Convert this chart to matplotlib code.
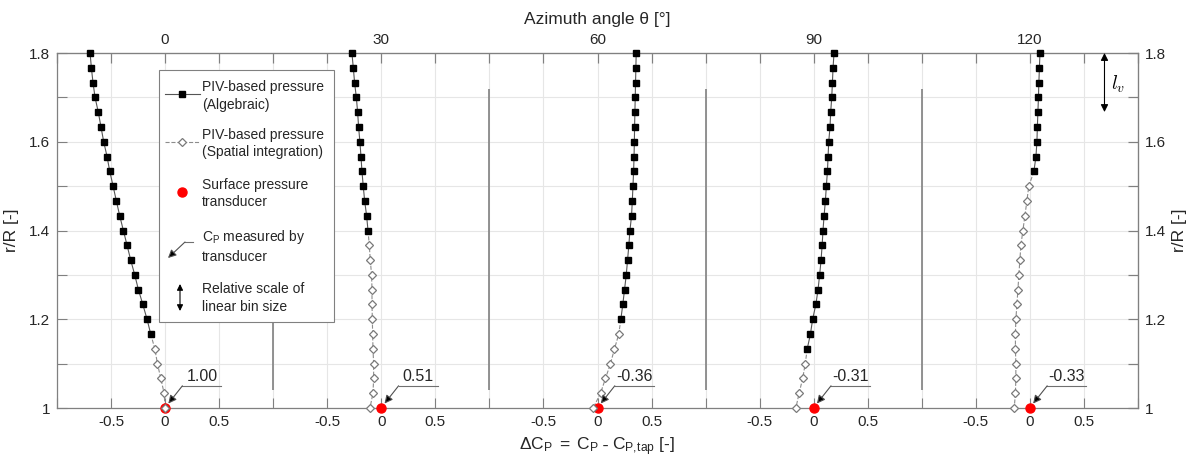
import numpy as np
import matplotlib
matplotlib.use('Agg')
import matplotlib.pyplot as plt
from matplotlib.patches import Rectangle

plt.rcParams['font.family'] = ['Liberation Sans', 'DejaVu Sans']
plt.rcParams['axes.unicode_minus'] = False
plt.rcParams['mathtext.fontset'] = 'cm'

# radial bins (r/R), top to bottom
r_bins = [1.8, 1.7667, 1.7333, 1.7, 1.6667, 1.6333, 1.6, 1.5667, 1.5333, 1.5,
          1.4667, 1.4333, 1.4, 1.3667, 1.3333, 1.3, 1.2667, 1.2333, 1.2, 1.1667,
          1.1333, 1.1, 1.0667, 1.0333, 1.0]

angles = [0, 30, 60, 90, 120]
tap_cp = ['1.00', '0.51', '-0.36', '-0.31', '-0.33']
# number of bins (from the top) given by the algebraic method
n_algebraic = [20, 13, 19, 21, 9]

dcp_0 = [-0.694, -0.682, -0.667, -0.648, -0.618, -0.593, -0.568, -0.537, -0.512, -0.481,
         -0.451, -0.420, -0.386, -0.352, -0.318, -0.281, -0.247, -0.206, -0.167, -0.133,
         -0.095, -0.071, -0.040, -0.009, 0.0]
dcp_30 = [-0.272, -0.259, -0.247, -0.231, -0.219, -0.210, -0.198, -0.188, -0.179, -0.167,
          -0.154, -0.136, -0.123, -0.111, -0.102, -0.090, -0.086, -0.086, -0.083, -0.080,
          -0.077, -0.071, -0.071, -0.077, -0.105]
dcp_60 = [0.358, 0.355, 0.352, 0.349, 0.346, 0.343, 0.341, 0.338, 0.334, 0.328,
          0.322, 0.315, 0.300, 0.290, 0.278, 0.266, 0.250, 0.234, 0.216, 0.197,
          0.157, 0.120, 0.074, 0.028, -0.040]
dcp_90 = [0.188, 0.179, 0.173, 0.167, 0.157, 0.151, 0.139, 0.133, 0.127, 0.117,
          0.108, 0.096, 0.086, 0.078, 0.068, 0.055, 0.040, 0.020, -0.010, -0.030,
          -0.060, -0.078, -0.102, -0.135, -0.165]
dcp_120 = [0.093, 0.088, 0.083, 0.079, 0.074, 0.069, 0.065, 0.056, 0.037, -0.010,
           -0.028, -0.046, -0.065, -0.083, -0.093, -0.102, -0.111, -0.120, -0.130, -0.134,
           -0.134, -0.130, -0.130, -0.134, -0.145]
dcp_all = [dcp_0, dcp_30, dcp_60, dcp_90, dcp_120]

SPAN = 2.0
GRAY = '#808080'
TXT = '#262626'

fig = plt.figure(figsize=(11.97, 4.66), dpi=100)
ax = fig.add_axes([57 / 1197, 1 - 408 / 466, 1081 / 1197, 355 / 466])

r = np.array(r_bins)
for i, dcp in enumerate(dcp_all):
    c = SPAN * i
    n = n_algebraic[i]
    x = np.array(dcp) + c
    ax.plot(x[n - 1:], r[n - 1:], ls='--', color='#8c8c8c', lw=0.8, zorder=3)
    ax.plot(c, 1.0, 'o', color='red', ms=6.5, zorder=4, clip_on=False)
    ax.plot(x[n:], r[n:], ls='none', marker='D', ms=4.5, mfc='white',
            mec='#7a7a7a', mew=0.9, zorder=5, clip_on=False)
    ax.plot(x[:n], r[:n], '-', color='#555555', lw=0.8, marker='s', ms=4.8,
            mfc='k', mec='k', zorder=5, clip_on=False)
    # measured Cp callout
    ax.plot([c + 0.16, c + 0.52], [1.05, 1.05], color='#707070', lw=0.8, zorder=6)
    ax.annotate('', xy=(c + 0.03, 1.01), xytext=(c + 0.16, 1.05),
                arrowprops=dict(arrowstyle='-|>', fc='k', ec='#505050', lw=0.8,
                                mutation_scale=12, shrinkA=0, shrinkB=0), zorder=6)
    ax.text(c + 0.34, 1.072, tap_cp[i], ha='center', va='center', fontsize=11.5, color=TXT)

# panel separators
ax.vlines([SPAN * i + SPAN / 2 for i in range(len(angles) - 1)], 1.04, 1.72,
          color=GRAY, lw=1.2, zorder=2)

# bin-size marker
ax.annotate('', xy=(8.69, 1.8), xytext=(8.69, 1.667),
            arrowprops=dict(arrowstyle='<|-|>', fc='k', ec='k', lw=0.8,
                            mutation_scale=11, shrinkA=0, shrinkB=0))
ax.text(8.75, 1.73, r'$l_v$', fontsize=14, ha='left', va='center')

# axes, ticks, grid
ax.set_xlim(-1, SPAN * (len(angles) - 1) + 1)
ax.set_ylim(1, 1.8)
xt = np.arange(-1, SPAN * (len(angles) - 1) + 1.01, 0.5)
xl = []
for t in xt:
    rel = t - SPAN * round(t / SPAN)
    if abs(rel) > 0.9:
        xl.append('')
    elif abs(rel) < 1e-9:
        xl.append('0')
    else:
        xl.append(f'{rel:g}')
ax.set_xticks(xt, xl)
yt = np.round(np.arange(1, 1.801, 0.1), 1)
yl = [f'{v:g}' if round(v * 10) % 2 == 0 else '' for v in yt]
ax.set_yticks(yt, yl)
ax.grid(True, color='#e6e6e6', lw=0.8)
ax.set_axisbelow(True)
for s in ax.spines.values():
    s.set_color(GRAY)
    s.set_linewidth(0.9)
ax.tick_params(direction='in', length=7, color=GRAY, labelcolor=TXT, labelsize=11,
               top=True, right=True, pad=5)
ax.set_xlabel(r'$\mathregular{ΔC_P\;=\;C_P\;\text{-}\;C_{P,\!tap}}$ [-]', fontsize=12.5,
              color=TXT, labelpad=5)
ax.set_ylabel('r/R [-]', fontsize=12.5, color=TXT, labelpad=7)

top = ax.secondary_xaxis('top')
top.set_xticks(xt, [str(angles[int(round(t / SPAN))]) if abs(t - SPAN * round(t / SPAN)) < 1e-9 else ''
                    for t in xt])
top.tick_params(direction='in', length=7, color=GRAY, labelcolor=TXT, labelsize=11, pad=4)
top.spines['top'].set_color(GRAY)
top.set_xlabel('Azimuth angle θ [°]', fontsize=12.5, color=TXT, labelpad=7)

right = ax.secondary_yaxis('right')
right.set_yticks(yt, yl)
right.tick_params(direction='in', length=7, color=GRAY, labelcolor=TXT, labelsize=11, pad=5)
right.spines['right'].set_color(GRAY)
right.set_ylabel('r/R [-]', fontsize=12.5, color=TXT, labelpad=4)

# legend drawn by hand
def fx(px):
    return (px - 57) / 1081


def fy(py):
    return (408 - py) / 355


T = ax.transAxes
ax.add_patch(Rectangle((fx(159), fy(322)), fx(334) - fx(159), fy(70) - fy(322),
                       transform=T, fc='white', ec=GRAY, lw=0.8, zorder=10))
lkw = dict(transform=T, fontsize=10, color=TXT, va='center', ha='left', zorder=11,
           linespacing=1.3)
tx = fx(202)
ax.plot([fx(165), fx(200)], [fy(94), fy(94)], '-', color='#555555', lw=0.8,
        transform=T, zorder=11)
ax.plot(fx(182), fy(94), 's', ms=4.8, mfc='k', mec='k', transform=T, zorder=12)
ax.text(tx, fy(96), 'PIV-based pressure\n(Algebraic)', **lkw)

ax.plot([fx(165), fx(200)], [fy(142), fy(142)], '--', color='#8c8c8c', lw=0.8,
        transform=T, zorder=11)
ax.plot(fx(182), fy(142), 'D', ms=4.5, mfc='white', mec='#7a7a7a', mew=0.9,
        transform=T, zorder=12)
ax.text(tx, fy(143.5), 'PIV-based pressure\n(Spatial integration)', **lkw)

ax.plot(fx(182), fy(192), 'o', color='red', ms=6.5, transform=T, zorder=12)
ax.text(tx, fy(193.5), 'Surface pressure\ntransducer', **lkw)

ax.plot([fx(193), fx(185)], [fy(242), fy(242)], color='#707070', lw=0.8,
        transform=T, zorder=11)
ax.annotate('', xy=(fx(168), fy(258)), xytext=(fx(185), fy(242)), xycoords=T, textcoords=T,
            arrowprops=dict(arrowstyle='-|>', fc='k', ec='#505050', lw=0.8,
                            mutation_scale=12, shrinkA=0, shrinkB=0), zorder=12)
ax.text(tx, fy(246), r'$\mathregular{C_P}$ measured by' + '\ntransducer', **lkw)

ax.annotate('', xy=(fx(180), fy(284)), xytext=(fx(180), fy(311)), xycoords=T, textcoords=T,
            arrowprops=dict(arrowstyle='<|-|>', fc='k', ec='k', lw=0.8,
                            mutation_scale=9, shrinkA=0, shrinkB=0), zorder=12)
ax.text(tx, fy(298), 'Relative scale of\nlinear bin size', **lkw)

fig.savefig('out.png', dpi=100)
